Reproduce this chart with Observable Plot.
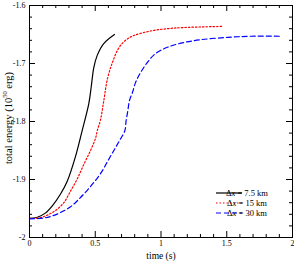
<!DOCTYPE html>
<html><head><meta charset="utf-8">
<script src="https://cdn.jsdelivr.net/npm/d3@7"></script>
<script src="https://cdn.jsdelivr.net/npm/@observablehq/plot@0.6"></script>
<style>body{margin:0;background:#fff;}#chart{width:294px;height:262px;}</style>
</head><body><div id="chart"></div>
<script>
// ---- data ----
const seriesNames = ["7.5 km", "15 km", "30 km"];
const seriesColors = ["#000000", "#ff0000", "#0000ff"];
const seriesDash = [null, "1.5,2", "5,3"];

const t75 = [0, 0.06, 0.12, 0.175, 0.236, 0.287, 0.35, 0.40, 0.451, 0.469, 0.489, 0.515, 0.563, 0.646];
const e75 = [-1.967, -1.965, -1.958, -1.945, -1.925, -1.903, -1.860, -1.816, -1.769, -1.741, -1.707, -1.686, -1.666, -1.650];

const t15 = [0, 0.08, 0.14, 0.2, 0.261, 0.312, 0.363, 0.413, 0.464, 0.502, 0.515, 0.54, 0.565, 0.593, 0.631, 0.677, 0.73, 0.791, 0.92, 1.049, 1.171, 1.475];
const e15 = [-1.967, -1.966, -1.961, -1.953, -1.940, -1.920, -1.899, -1.874, -1.850, -1.829, -1.816, -1.797, -1.764, -1.726, -1.698, -1.674, -1.660, -1.652, -1.644, -1.640, -1.638, -1.636];

const t30 = [0, 0.08, 0.12, 0.17, 0.236, 0.312, 0.388, 0.464, 0.540, 0.603, 0.654, 0.692, 0.725, 0.735, 0.748, 0.760, 0.783, 0.806, 0.844, 0.897, 0.958, 1.049, 1.171, 1.30, 1.506, 1.681, 1.909];
const e30 = [-1.968, -1.967, -1.966, -1.963, -1.957, -1.947, -1.931, -1.912, -1.890, -1.865, -1.845, -1.830, -1.816, -1.798, -1.781, -1.764, -1.750, -1.733, -1.716, -1.698, -1.683, -1.672, -1.664, -1.659, -1.655, -1.653, -1.653];

const xMajor = [0, 0.5, 1, 1.5, 2];
const xMinor = [0.1, 0.2, 0.3, 0.4, 0.6, 0.7, 0.8, 0.9, 1.1, 1.2, 1.3, 1.4, 1.6, 1.7, 1.8, 1.9];
const xTickLabels = ["0", "0.5", "1", "1.5", "2"];
const yMajor = [-2, -1.9, -1.8, -1.7, -1.6];
const yMinor = [-1.98, -1.96, -1.94, -1.92, -1.88, -1.86, -1.84, -1.82, -1.78, -1.76, -1.74, -1.72, -1.68, -1.66, -1.64, -1.62];
const yTickLabels = ["-2", "-1.9", "-1.8", "-1.7", "-1.6"];
const xLabel = "time (s)";

// ---- layout ----
const W = 294, H = 262, mL = 29, mR = 2, mT = 5, mB = 25;
const fw = W - mL - mR, fh = H - mT - mB;
const major = 6, minor = 3;

const toRows = (ts, es) => ts.map((t, i) => ({t, e: es[i]}));
const series = [toRows(t75, e75), toRows(t15, e15), toRows(t30, e30)];

const lineMarks = series.map((rows, i) => Plot.line(rows, {
  x: "t", y: "e", stroke: seriesColors[i], strokeWidth: 1.2,
  strokeDasharray: seriesDash[i], curve: "catmull-rom"
}));

const chart = Plot.plot({
  width: W, height: H,
  marginLeft: mL, marginRight: mR, marginTop: mT, marginBottom: mB,
  style: {fontFamily: "'Liberation Serif', serif", fontSize: "8px", background: "#fff", color: "#000"},
  x: {domain: [0, 2], axis: null},
  y: {domain: [-2, -1.6], axis: null},
  marks: [
    ...lineMarks,
    Plot.tickX(xMajor, {x: d => d, insetTop: fh - major, stroke: "#000"}),
    Plot.tickX(xMajor, {x: d => d, insetBottom: fh - major, stroke: "#000"}),
    Plot.tickX(xMinor, {x: d => d, insetTop: fh - minor, stroke: "#000"}),
    Plot.tickX(xMinor, {x: d => d, insetBottom: fh - minor, stroke: "#000"}),
    Plot.tickY(yMajor, {y: d => d, insetRight: fw - major, stroke: "#000"}),
    Plot.tickY(yMajor, {y: d => d, insetLeft: fw - major, stroke: "#000"}),
    Plot.tickY(yMinor, {y: d => d, insetRight: fw - minor, stroke: "#000"}),
    Plot.tickY(yMinor, {y: d => d, insetLeft: fw - minor, stroke: "#000"}),
    Plot.axisX(xMajor, {tickSize: 0, tickPadding: 3, tickFormat: d => xTickLabels[xMajor.indexOf(d)], label: null, fontSize: 8}),
    Plot.axisY(yMajor, {tickSize: 0, tickPadding: 4, tickFormat: d => yTickLabels[yMajor.indexOf(d)], label: null, fontSize: 8}),
    Plot.text([xLabel], {frameAnchor: "bottom", dy: 18, fontSize: 9.5, lineAnchor: "middle"}),
    Plot.frame({stroke: "#000", strokeWidth: 1})
  ]
});
document.getElementById("chart").appendChild(chart);

// y-axis title with superscript
const svg = d3.select(chart);
const yt = svg.append("text")
  .attr("transform", `translate(10,${mT + fh / 2 - 3}) rotate(-90)`)
  .attr("text-anchor", "middle").attr("dominant-baseline", "middle")
  .attr("font-size", 10.5).attr("fill", "#000");
yt.append("tspan").text("total energy (10");
yt.append("tspan").attr("font-size", 6.5).attr("dy", -4).text("50");
yt.append("tspan").attr("dy", 4).text(" erg)");

// legend
const lg = svg.append("g").attr("transform", "translate(216,193)");
seriesNames.forEach((name, i) => {
  const row = lg.append("g").attr("transform", `translate(0,${i * 10})`);
  row.append("line").attr("x1", 0).attr("x2", 26).attr("y1", 0).attr("y2", 0)
    .attr("stroke", seriesColors[i]).attr("stroke-width", 1.2)
    .attr("stroke-dasharray", seriesDash[i]);
  const tx = row.append("text").attr("x", 31).attr("y", 0).attr("dy", "0.32em")
    .attr("font-size", 8.5).attr("fill", "#000");
  tx.append("tspan").text("Δ");
  tx.append("tspan").attr("font-style", "italic").text("x");
  tx.append("tspan").text(" = " + name);
});
</script>
</body></html>
